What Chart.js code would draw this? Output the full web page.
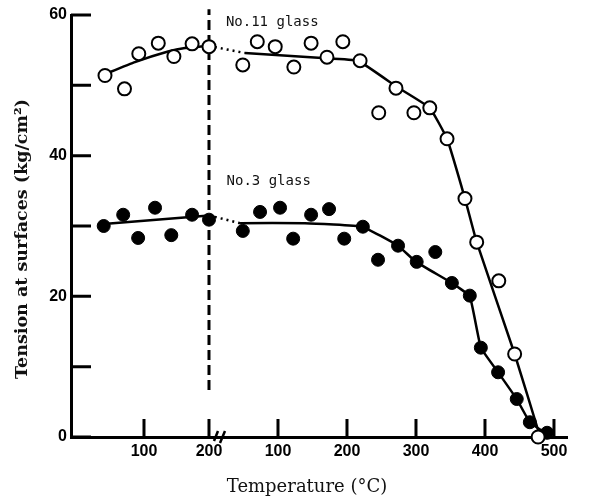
<!DOCTYPE html>
<html>
<head>
<meta charset="utf-8">
<script src="https://cdn.jsdelivr.net/npm/chart.js@4/dist/chart.umd.min.js"></script>
<style>
  html, body { margin: 0; padding: 0; background: #fff; }
  #wrap { width: 590px; height: 499px; }
</style>
</head>
<body>
<div id="wrap"><canvas id="tension-chart" width="590" height="499"></canvas></div>
<script>
// temperatures in the left block (0-200) and the right block (0-500) of the broken axis
const no11Temp1 = [40, 70, 92, 122, 146, 174, 200];
const no11Tens1 = [51.4, 49.5, 54.5, 56.0, 54.1, 55.9, 55.5];
const no11Temp2 = [49, 70, 96, 123, 148, 171, 194, 219, 246, 271, 297, 320, 345, 371, 388, 420, 443, 477];
const no11Tens2 = [52.9, 56.2, 55.5, 52.6, 56.0, 54.0, 56.2, 53.5, 46.1, 49.6, 46.1, 46.8, 42.4, 33.9, 27.7, 22.2, 11.8, 0];

const no3Temp1 = [38, 68, 91, 117, 142, 174, 200];
const no3Tens1 = [30.0, 31.6, 28.3, 32.6, 28.7, 31.6, 30.9];
const no3Temp2 = [49, 74, 103, 122, 148, 174, 196, 223, 245, 274, 301, 328, 352, 378, 394, 419, 446, 465, 490];
const no3Tens2 = [29.3, 32.0, 32.6, 28.2, 31.6, 32.4, 28.2, 29.9, 25.2, 27.2, 24.9, 26.3, 21.9, 20.1, 12.7, 9.2, 5.4, 2.1, 0.6];

// hand drawn curves through the points
const no11FitTemp1 = [40, 86, 137, 163, 200];
const no11FitTens1 = [51.6, 53.3, 54.8, 55.3, 55.6];
const no11FitTemp2 = [52, 164, 216, 272, 320, 345, 371, 388, 443, 480];
const no11FitTens2 = [54.6, 53.9, 53.5, 49.8, 46.8, 42.4, 33.9, 27.7, 11.8, 0];

const no3FitTemp1 = [38, 200];
const no3FitTens1 = [30.3, 31.5];
const no3FitTemp2 = [45, 139, 222, 274, 300, 352, 378, 394, 419, 446, 465, 490];
const no3FitTens2 = [30.4, 30.4, 29.9, 27.2, 24.9, 21.9, 20.0, 12.7, 9.2, 5.4, 2.1, 0.4];

const guideTemp = 200;
const guideTens = [6.7, 60.8];

const xTicks1 = [100, 200];
const xTicks2 = [100, 200, 300, 400, 500];
const yTickLabels = [0, 20, 40, 60];

const seriesNames = ['No.11 glass', 'No.3 glass'];
const xTitle = 'Temperature (°C)';
const yTitle = 'Tension at surfaces (kg/cm²)';

// right block is drawn a little wider than the left one
const seg2Scale = 69 / 65;
const toAxis = (t, seg) => seg === 1 ? t : 200 + t * seg2Scale;
const breakAt = 220;

const pts = (temps, vals, seg) => temps.map((t, i) => ({ x: toAxis(t, seg), y: vals[i] }));

const xTickPos = xTicks1.map(t => toAxis(t, 1)).concat(xTicks2.map(t => toAxis(t, 2)));
const xTickLabels = xTicks1.concat(xTicks2).map(String);

const serif = '"DejaVu Serif", "Liberation Serif", serif';
const narrow = '"Liberation Sans Narrow", "Liberation Sans", sans-serif';
const mono = '"DejaVu Sans Mono", "Liberation Mono", monospace';

const axisMarks = {
    id: 'axisMarks',
    beforeDatasetsDraw(chart) {
        const { ctx, scales: { x, y } } = chart;
        ctx.save();
        ctx.strokeStyle = '#000';
        ctx.lineWidth = 3;
        ctx.beginPath();
        y.ticks.forEach(t => {
            const py = y.getPixelForValue(t.value);
            ctx.moveTo(x.left, py);
            ctx.lineTo(x.left + 20, py);
        });
        x.ticks.forEach(t => {
            const px = x.getPixelForValue(t.value);
            ctx.moveTo(px, y.bottom);
            ctx.lineTo(px, y.bottom - 18);
        });
        ctx.stroke();

        // break sign on the x axis
        const bx = x.getPixelForValue(breakAt);
        const by = y.bottom;
        ctx.lineWidth = 2.5;
        ctx.beginPath();
        ctx.moveTo(bx - 8, by + 4);
        ctx.lineTo(bx - 4, by - 6);
        ctx.moveTo(bx - 2, by + 6);
        ctx.lineTo(bx + 3, by - 6);
        ctx.stroke();
        ctx.restore();
    },
    afterDraw(chart) {
        const { ctx, scales: { x, y } } = chart;
        ctx.save();
        ctx.fillStyle = '#111';
        ctx.textBaseline = 'middle';
        ctx.textAlign = 'left';
        ctx.font = '14px ' + mono;
        ctx.fillText(seriesNames[0], x.getPixelForValue(226), y.getPixelForValue(59.0));
        ctx.fillText(seriesNames[1], x.getPixelForValue(227), y.getPixelForValue(36.4));

        ctx.textAlign = 'center';
        ctx.font = '18px ' + serif;
        ctx.fillText(xTitle, 307, 487);

        ctx.translate(22, 239);
        ctx.rotate(-Math.PI / 2);
        ctx.font = 'bold 17.5px ' + serif;
        ctx.fillText(yTitle, 0, 0);
        ctx.restore();
    }
};

document.addEventListener('DOMContentLoaded', () => {
    const ctx = document.getElementById('tension-chart').getContext('2d');

    const openPoint = {
        showLine: false,
        pointRadius: 6.5,
        pointBorderWidth: 2,
        pointBorderColor: '#000',
        pointBackgroundColor: '#fff',
        clip: false,
    };
    const filledPoint = {
        showLine: false,
        pointRadius: 6.5,
        pointBorderWidth: 1,
        pointBorderColor: '#000',
        pointBackgroundColor: '#000',
        clip: false,
    };
    const solid = {
        showLine: true,
        pointRadius: 0,
        borderColor: '#000',
        borderWidth: 2.5,
        tension: 0.1,
        clip: false,
    };
    const dotted = {
        showLine: true,
        pointRadius: 0,
        borderColor: '#000',
        borderWidth: 2.5,
        borderDash: [2, 4],
        clip: false,
    };

    new Chart(ctx, {
        type: 'scatter',
        data: {
            datasets: [
                { label: seriesNames[0], data: pts(no11Temp1, no11Tens1, 1).concat(pts(no11Temp2, no11Tens2, 2)), ...openPoint },
                { label: seriesNames[1], data: pts(no3Temp1, no3Tens1, 1).concat(pts(no3Temp2, no3Tens2, 2)), ...filledPoint },
                { data: pts(no11FitTemp1, no11FitTens1, 1), ...solid },
                { data: pts(no11FitTemp2, no11FitTens2, 2), ...solid },
                { data: [
                    { x: toAxis(no11FitTemp1[no11FitTemp1.length - 1], 1), y: no11FitTens1[no11FitTens1.length - 1] },
                    { x: toAxis(no11FitTemp2[0], 2), y: no11FitTens2[0] },
                ], ...dotted },
                { data: pts(no3FitTemp1, no3FitTens1, 1), ...solid },
                { data: pts(no3FitTemp2, no3FitTens2, 2), ...solid },
                { data: [
                    { x: toAxis(no3FitTemp1[no3FitTemp1.length - 1], 1), y: no3FitTens1[no3FitTens1.length - 1] },
                    { x: toAxis(no3FitTemp2[0], 2), y: no3FitTens2[0] },
                ], ...dotted },
                { data: guideTens.map(v => ({ x: toAxis(guideTemp, 1), y: v })),
                  showLine: true, pointRadius: 0, borderColor: '#000', borderWidth: 3,
                  borderDash: [10, 5], clip: false },
            ]
        },
        options: {
            responsive: false,
            animation: false,
            layout: { padding: { top: 15, right: 23, left: 0, bottom: 0 } },
            plugins: {
                legend: { display: false },
                tooltip: { enabled: false },
            },
            scales: {
                x: {
                    type: 'linear',
                    min: -12.3,
                    max: 750.8,
                    afterBuildTicks: scale => {
                        scale.ticks = xTickPos.map(v => ({ value: v }));
                    },
                    afterFit: scale => { scale.height = 62; },
                    grid: { display: false, drawTicks: false },
                    border: { display: true, width: 3, color: '#000' },
                    ticks: {
                        autoSkip: false,
                        maxRotation: 0,
                        padding: 5,
                        color: '#000',
                        font: { family: narrow, size: 16, weight: 'bold' },
                        callback: (v, i) => xTickLabels[i],
                    },
                },
                y: {
                    min: 0,
                    max: 60,
                    afterFit: scale => { scale.width = 71; },
                    grid: { display: false, drawTicks: false },
                    border: { display: true, width: 3, color: '#000' },
                    ticks: {
                        stepSize: 10,
                        padding: 4,
                        color: '#000',
                        font: { family: narrow, size: 16, weight: 'bold' },
                        callback: v => yTickLabels.includes(v) ? String(v) : '',
                    },
                },
            },
        },
        plugins: [axisMarks],
    });
});
</script>
</body>
</html>
